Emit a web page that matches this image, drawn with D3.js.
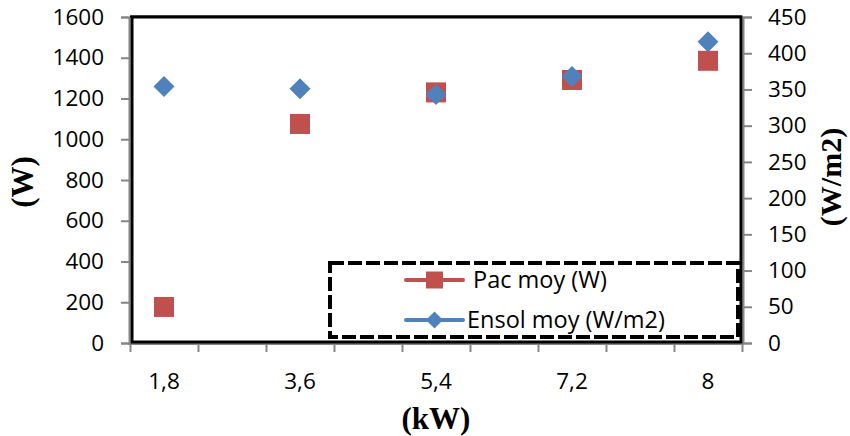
<!DOCTYPE html>
<html><head><meta charset="utf-8">
<script src="https://cdn.jsdelivr.net/npm/d3@7"></script>
<style>body{margin:0;background:#fff}svg{display:block}</style>
</head><body>
<script>
const categories = ["1,8","3,6","5,4","7,2","8"];
const pacMoy = [177, 1075, 1230, 1291, 1385];
const ensolMoy = [354, 351, 343, 368, 416];
const leftTicks = [0,200,400,600,800,1000,1200,1400,1600];
const rightTicks = [0,50,100,150,200,250,300,350,400,450];
const seriesNames = ["Pac moy (W)", "Ensol moy (W/m2)"];
const colors = ["#C0504D", "#4F81BD"];

const W = 850, H = 436;
const L = 130, R = 742, T = 17, B = 343;
const svg = d3.select("body").append("svg").attr("width", W).attr("height", H);

const x = d3.scaleLinear().domain([-0.25, categories.length - 0.75]).range([L, R]);
const yL = d3.scaleLinear().domain([0, 1600]).range([B, T]);
const yR = d3.scaleLinear().domain([0, 450]).range([B, T]);
const tickFont = "'Open Sans', sans-serif";

const xTicks = d3.range(0, categories.length * 2).map(k => -0.25 + k * 0.5);

const axG = svg.append("g");
const leftAxis = axG.append("g").attr("transform", `translate(${L - 1},0)`)
  .call(d3.axisLeft(yL).tickValues(leftTicks).tickSize(8).tickPadding(17).tickFormat(d3.format("d")));
const rightAxis = axG.append("g").attr("transform", `translate(${R + 1},0)`)
  .call(d3.axisRight(yR).tickValues(rightTicks).tickSize(9).tickPadding(16).tickFormat(d3.format("d")));
const bottomAxis = axG.append("g").attr("transform", `translate(0,${B + 1})`)
  .call(d3.axisBottom(x).tickValues(xTicks).tickSize(8).tickFormat(""));
[leftAxis, rightAxis, bottomAxis].forEach(a => {
  a.select(".domain").attr("stroke", "#868686").attr("stroke-width", 2);
  a.selectAll(".tick line").attr("stroke", "#868686").attr("stroke-width", 2);
  a.selectAll("text").attr("font-family", tickFont).attr("font-size", 22.5).attr("fill", "#000");
});
bottomAxis.select(".domain").attr("d", `M${L - 2},0H${R + 2}`);

svg.append("g").selectAll("text").data(categories).join("text")
  .attr("x", (d, i) => x(i)).attr("y", 389)
  .attr("text-anchor", "middle")
  .attr("font-family", tickFont).attr("font-size", 22.5).text(d => d);

svg.append("rect").attr("x", L + 2).attr("y", T).attr("width", R - L - 3).attr("height", B - T - 1)
  .attr("fill", "none").attr("stroke", "#000").attr("stroke-width", 3);
svg.append("line").attr("x1", L).attr("x2", R).attr("y1", T - 0.5).attr("y2", T - 0.5)
  .attr("stroke", "#000").attr("stroke-width", 2);

const lg = svg.append("g");
lg.append("rect").attr("x", 330).attr("y", 263).attr("width", 408).attr("height", 74)
  .attr("fill", "#fff").attr("stroke", "#000").attr("stroke-width", 4)
  .attr("stroke-dasharray", "14,4");

const sq = 20;
svg.append("g").selectAll("rect").data(pacMoy).join("rect")
  .attr("x", (d, i) => x(i) - sq / 2).attr("y", d => yL(d) - sq / 2)
  .attr("width", sq).attr("height", sq).attr("fill", colors[0]);
const dia = 10.5;
svg.append("g").selectAll("path").data(ensolMoy).join("path")
  .attr("d", (d, i) => {
    const cx = x(i), cy = yR(d);
    return `M${cx},${cy - dia}L${cx + dia},${cy}L${cx},${cy + dia}L${cx - dia},${cy}Z`;
  }).attr("fill", colors[1]);

const legY = [280, 320];
const legX0 = 406, legX1 = 463, legMid = 434.5;
const legTextX = [473, 467];
seriesNames.forEach((name, i) => {
  lg.append("line").attr("x1", legX0).attr("x2", legX1).attr("y1", legY[i]).attr("y2", legY[i])
    .attr("stroke", colors[i]).attr("stroke-width", 4).attr("stroke-linecap", "round");
  if (i === 0) {
    lg.append("rect").attr("x", legMid - 8.5).attr("y", legY[i] - 8.5).attr("width", 17).attr("height", 17)
      .attr("fill", colors[i]);
  } else {
    const r = 8.5;
    lg.append("path").attr("d", `M${legMid},${legY[i] - r}L${legMid + r},${legY[i]}L${legMid},${legY[i] + r}L${legMid - r},${legY[i]}Z`)
      .attr("fill", colors[i]);
  }
  lg.append("text").attr("x", legTextX[i]).attr("y", legY[i]).attr("dy", "0.35em")
    .attr("font-family", tickFont).attr("font-size", 23.5).text(name);
});

const titleFont = "'Liberation Serif', 'Times New Roman', serif";
svg.append("text").attr("transform", "translate(33,182) rotate(-90)")
  .attr("text-anchor", "middle").attr("font-family", titleFont).attr("font-weight", "bold")
  .attr("font-size", 31).text("(W)");
svg.append("text").attr("transform", "translate(841,177) rotate(-90)")
  .attr("text-anchor", "middle").attr("font-family", titleFont).attr("font-weight", "bold")
  .attr("font-size", 30).text("(W/m2)");
svg.append("text").attr("x", 436).attr("y", 429)
  .attr("text-anchor", "middle").attr("font-family", titleFont).attr("font-weight", "bold")
  .attr("font-size", 31).text("(kW)");
</script>
</body></html>
